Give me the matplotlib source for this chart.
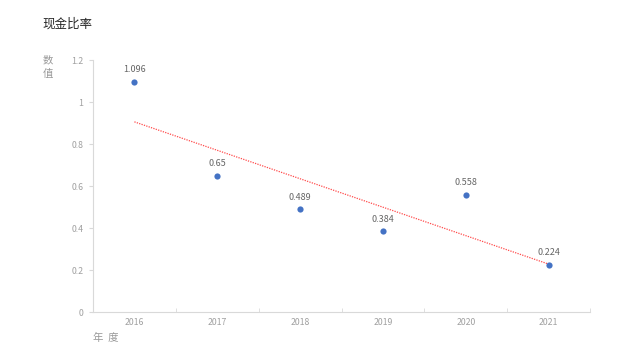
import numpy as np
import matplotlib
matplotlib.use("Agg")
import matplotlib.pyplot as plt
from matplotlib.ticker import FixedLocator

plt.rcParams['font.family'] = ['Noto Sans CJK SC', 'DejaVu Sans']

years = ['2016', '2017', '2018', '2019', '2020', '2021']
values = [1.096, 0.65, 0.489, 0.384, 0.558, 0.224]
labels = ['1.096', '0.65', '0.489', '0.384', '0.558', '0.224']
yticks = [0, 0.2, 0.4, 0.6, 0.8, 1, 1.2]
ytick_labels = ['0', '0.2', '0.4', '0.6', '0.8', '1', '1.2']

fig = plt.figure(figsize=(6.4, 3.6), dpi=100)
ax = fig.add_axes([93/640, 1-312/360, (590-93)/640, (312-60)/360])

x = np.arange(len(years))
ax.scatter(x, values, s=20, color='#4472C4', zorder=3, linewidths=0)
for xi, v, lab in zip(x, values, labels):
    ax.annotate(lab, (xi, v), xytext=(0, 5.5), textcoords='offset points',
                ha='center', va='bottom', fontsize=6.5, color='#666666')

coef = np.polyfit(x, values, 1)
ax.plot(x, np.polyval(coef, x), color='#FF4B4B', linestyle=(0, (1, 1)), linewidth=0.9, zorder=2)

ax.set_xlim(-0.5, len(years) - 0.5)
ax.set_ylim(0, 1.2)
ax.set_xticks(x)
ax.set_xticklabels(years)
ax.xaxis.set_minor_locator(FixedLocator(np.arange(-0.5, len(years), 1.0)))
ax.tick_params(axis='x', which='major', length=0, pad=4, labelsize=6.3, labelcolor='#a0a0a0')
ax.tick_params(axis='x', which='minor', length=3, color='#d9d9d9', direction='in')
ax.set_yticks(yticks)
ax.set_yticklabels(ytick_labels)
ax.tick_params(axis='y', length=3, color='#d9d9d9', pad=4, labelsize=6.3, labelcolor='#a0a0a0')

for s in ['top', 'right']:
    ax.spines[s].set_visible(False)
for s in ['left', 'bottom']:
    ax.spines[s].set_color('#d9d9d9')
    ax.spines[s].set_linewidth(0.8)

fig.text(42/640, 1-24/360, '现金比率', fontsize=9, color='#262626', ha='left', va='center')
fig.text(48/640, 1-60/360, '数', fontsize=7.5, color='#999999', ha='center', va='center')
fig.text(48/640, 1-74/360, '值', fontsize=7.5, color='#999999', ha='center', va='center')
fig.text(106/640, 1-338/360, '年  度', fontsize=7.5, color='#999999', ha='center', va='center')

fig.savefig('out.png', dpi=100)
